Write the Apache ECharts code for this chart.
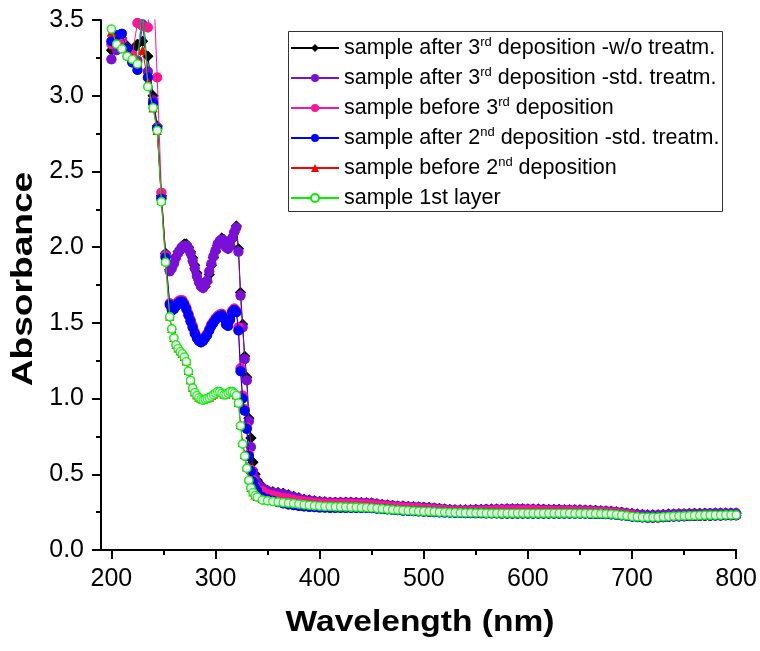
<!DOCTYPE html>
<html><head><meta charset="utf-8">
<script src="https://cdn.jsdelivr.net/npm/echarts@6/dist/echarts.min.js"></script>
<style>html,body{margin:0;padding:0;background:#fff}#c{width:760px;height:651px}</style>
</head><body><div id="c"></div>
<script>
// Wavelength grid (nm)
const wavelengths = [200,205,210,215,220,225,230,235,240,244,248,252,
256,258,260,262,264,266,268,270,272,274,276,278,280,282,284,286,288,290,292,294,296,298,300,302,304,306,308,310,312,314,316,318,320,
322,324,326,328,330,332,334,336,338,340,
345,350,355,360,365,370,375,380,385,390,395,400,
405,410,415,420,425,430,435,440,445,450,
455,460,465,470,475,480,485,490,495,500,
505,510,515,520,525,530,535,540,545,550,
555,560,565,570,575,580,585,590,595,600,
605,610,615,620,625,630,635,640,645,650,
655,660,665,670,675,680,685,690,695,700,
705,710,715,720,725,730,735,740,745,750,
755,760,765,770,775,780,785,790,795,800];

const seriesNames = [
  'sample after 3rd deposition -w/o treatm.',
  'sample after 3rd deposition -std. treatm.',
  'sample before 3rd deposition',
  'sample after 2nd deposition -std. treatm.',
  'sample before 2nd deposition',
  'sample 1st layer'
];

const after3rdNoTreat = [3.30,3.36,3.38,3.33,3.30,3.34,3.36,3.26,3.00,2.80,2.34,1.96,
1.85,1.87,1.90,1.94,1.97,1.99,2.01,2.02,2.02,2.00,1.97,1.93,1.88,1.83,1.78,1.75,1.73,1.74,1.77,1.82,
1.88,1.93,1.97,2.01,2.04,2.06,2.05,2.01,1.99,2.01,2.05,2.10,2.14,
1.99,1.70,1.49,1.28,1.14,0.87,0.74,0.58,0.50,0.46,
0.42,0.395,0.385,0.38,0.375,0.365,0.355,0.345,0.335,0.33,0.325,0.32,
0.318,0.316,0.315,0.315,0.315,0.315,0.314,0.313,0.312,0.31,
0.305,0.30,0.297,0.294,0.291,0.29,0.288,0.286,0.284,0.282,
0.28,0.277,0.274,0.271,0.268,0.266,0.265,0.265,0.266,0.267,
0.268,0.269,0.27,0.271,0.271,0.272,0.272,0.272,0.272,0.271,
0.271,0.27,0.269,0.268,0.267,0.267,0.266,0.266,0.265,0.265,
0.264,0.263,0.262,0.26,0.258,0.256,0.253,0.249,0.245,0.241,
0.237,0.234,0.232,0.232,0.233,0.235,0.237,0.238,0.239,0.24,
0.241,0.242,0.242,0.243,0.243,0.244,0.244,0.245,0.245,0.245];

const after3rdStdTreat = [3.24,3.30,3.33,3.30,3.26,3.23,3.47,3.16,2.97,2.79,2.33,1.95,
1.84,1.86,1.89,1.93,1.96,1.98,2.00,2.01,2.01,1.99,1.96,1.91,1.86,1.81,1.77,1.74,1.73,1.75,1.78,1.84,
1.89,1.94,1.98,2.02,2.04,2.05,2.04,2.00,1.99,2.01,2.06,2.10,2.13,
1.97,1.68,1.47,1.26,1.12,0.85,0.68,0.52,0.47,0.44,
0.41,0.39,0.38,0.375,0.37,0.36,0.35,0.34,0.332,0.327,0.322,0.318,
0.316,0.314,0.313,0.313,0.313,0.313,0.312,0.311,0.31,0.308,
0.303,0.298,0.295,0.292,0.289,0.288,0.286,0.284,0.282,0.28,
0.278,0.275,0.272,0.269,0.266,0.264,0.263,0.263,0.264,0.265,
0.266,0.267,0.268,0.269,0.269,0.27,0.27,0.27,0.27,0.269,
0.269,0.268,0.267,0.266,0.265,0.265,0.264,0.264,0.263,0.263,
0.262,0.261,0.26,0.258,0.256,0.254,0.251,0.247,0.243,0.239,
0.235,0.232,0.23,0.23,0.231,0.233,0.235,0.236,0.237,0.238,
0.239,0.24,0.24,0.241,0.241,0.242,0.242,0.243,0.243,0.243];

const before3rd = [3.34,3.38,3.37,3.31,3.27,3.48,3.46,3.45,3.80,3.12,2.36,1.94,
1.63,1.59,1.60,1.62,1.64,1.65,1.65,1.63,1.60,1.56,1.52,1.48,1.44,1.41,1.39,1.38,1.39,1.41,1.43,1.46,
1.49,1.51,1.53,1.545,1.555,1.56,1.54,1.50,1.49,1.53,1.58,1.595,1.58,
1.47,1.20,1.02,0.93,0.81,0.63,0.53,0.46,0.42,0.40,
0.39,0.37,0.36,0.352,0.345,0.338,0.332,0.326,0.32,0.316,0.312,0.309,
0.307,0.306,0.305,0.305,0.305,0.305,0.304,0.303,0.302,0.30,
0.296,0.292,0.289,0.286,0.283,0.281,0.279,0.277,0.275,0.273,
0.271,0.268,0.265,0.262,0.259,0.257,0.256,0.256,0.257,0.258,
0.259,0.26,0.261,0.262,0.262,0.263,0.263,0.263,0.263,0.262,
0.262,0.261,0.26,0.259,0.258,0.258,0.257,0.257,0.256,0.256,
0.255,0.254,0.253,0.251,0.249,0.247,0.244,0.239,0.234,0.229,
0.222,0.217,0.214,0.213,0.214,0.216,0.218,0.22,0.221,0.222,
0.223,0.224,0.225,0.226,0.226,0.227,0.227,0.228,0.228,0.228];

const after2ndStdTreat = [3.36,3.40,3.41,3.31,3.22,3.17,3.60,3.12,2.95,2.78,2.32,1.93,
1.62,1.58,1.59,1.61,1.63,1.64,1.64,1.62,1.59,1.55,1.51,1.47,1.43,1.40,1.38,1.37,1.38,1.40,1.42,1.45,
1.48,1.50,1.52,1.535,1.545,1.55,1.53,1.49,1.48,1.52,1.57,1.585,1.57,
1.45,1.18,1.00,0.92,0.80,0.62,0.52,0.45,0.41,0.39,
0.35,0.335,0.325,0.315,0.307,0.30,0.295,0.291,0.287,0.284,0.282,0.28,
0.279,0.278,0.278,0.278,0.278,0.278,0.278,0.278,0.277,0.276,
0.273,0.27,0.267,0.264,0.262,0.26,0.258,0.256,0.254,0.253,
0.252,0.25,0.248,0.247,0.246,0.245,0.244,0.243,0.243,0.242,
0.242,0.241,0.241,0.241,0.24,0.24,0.24,0.24,0.24,0.24,
0.24,0.24,0.24,0.24,0.24,0.24,0.24,0.24,0.239,0.239,
0.239,0.238,0.238,0.237,0.236,0.235,0.232,0.228,0.224,0.22,
0.217,0.215,0.214,0.214,0.215,0.217,0.219,0.221,0.222,0.223,
0.224,0.225,0.226,0.227,0.227,0.228,0.228,0.229,0.229,0.229];

const before2nd = [3.42,3.35,3.32,3.27,3.25,3.22,3.30,3.09,2.92,2.77,2.31,1.91,
1.545,1.465,1.405,1.36,1.335,1.315,1.30,1.28,1.25,1.185,1.125,1.075,1.045,1.025,1.01,1.00,0.995,1.00,1.005,1.01,
1.02,1.03,1.04,1.05,1.05,1.04,1.03,1.03,1.04,1.05,1.05,1.04,1.025,
0.975,0.83,0.71,0.63,0.55,0.47,0.415,0.385,0.365,0.355,
0.34,0.332,0.327,0.323,0.319,0.316,0.313,0.309,0.305,0.301,0.298,0.296,
0.294,0.293,0.292,0.291,0.29,0.289,0.288,0.287,0.286,0.284,
0.281,0.278,0.275,0.272,0.27,0.268,0.266,0.264,0.262,0.261,
0.26,0.258,0.256,0.255,0.254,0.253,0.252,0.251,0.251,0.25,
0.25,0.249,0.249,0.249,0.248,0.248,0.248,0.248,0.248,0.248,
0.248,0.248,0.248,0.248,0.248,0.248,0.248,0.248,0.247,0.247,
0.247,0.246,0.246,0.245,0.244,0.243,0.24,0.236,0.232,0.228,
0.225,0.223,0.222,0.222,0.223,0.225,0.227,0.229,0.23,0.231,
0.232,0.233,0.234,0.235,0.235,0.236,0.236,0.237,0.237,0.237];

const firstLayer = [3.44,3.34,3.31,3.26,3.24,3.21,3.60,3.06,2.92,2.77,2.30,1.90,
1.54,1.46,1.40,1.355,1.33,1.31,1.295,1.275,1.245,1.18,1.12,1.07,1.04,1.02,1.005,0.995,0.99,0.995,1.00,1.005,
1.015,1.025,1.035,1.045,1.045,1.035,1.025,1.025,1.035,1.045,1.045,1.035,1.02,
0.97,0.82,0.70,0.62,0.54,0.46,0.41,0.38,0.36,0.35,
0.33,0.325,0.32,0.317,0.313,0.31,0.307,0.303,0.299,0.295,0.292,0.29,
0.288,0.287,0.286,0.285,0.284,0.283,0.282,0.281,0.28,0.278,
0.275,0.272,0.269,0.266,0.264,0.262,0.26,0.258,0.256,0.255,
0.254,0.252,0.25,0.249,0.248,0.247,0.246,0.245,0.245,0.244,
0.244,0.243,0.243,0.243,0.242,0.242,0.242,0.242,0.242,0.242,
0.242,0.242,0.242,0.242,0.242,0.242,0.242,0.242,0.241,0.241,
0.241,0.24,0.24,0.239,0.238,0.237,0.234,0.23,0.226,0.222,
0.219,0.217,0.216,0.216,0.217,0.219,0.221,0.223,0.224,0.225,
0.226,0.227,0.228,0.229,0.229,0.23,0.23,0.231,0.231,0.231];

const xTickValues = [200,300,400,500,600,700,800];
const xMinorTickValues = [250,350,450,550,650,750];
const yTickLabels = ['0.0','0.5','1.0','1.5','2.0','2.5','3.0','3.5'];

const allValues = [after3rdNoTreat, after3rdStdTreat, before3rd, after2ndStdTreat, before2nd, firstLayer];
const colors = ['#000000','#7a10d8','#ff1493','#0000ff','#ff0000','#00ee00'];
const symbols = ['diamond','circle','circle','circle','triangle','circle'];
const symbolSizes = [11,10,10,10,9,8];

const FONT = '"Liberation Sans", Arial, sans-serif';

const series = [];
allValues.forEach((vals, k) => {
  const pts = wavelengths.map((w, i) => [w, vals[i]]);
  const itemStyle = k === 5 ? { color: '#ffffff', borderColor: colors[k], borderWidth: 1.4 } : { color: colors[k] };
  series.push({
    name: seriesNames[k],
    type: 'line',
    data: pts,
    symbol: symbols[k],
    symbolSize: symbolSizes[k],
    showAllSymbol: true,
    clip: true,
    color: colors[k],
    lineStyle: { width: 1, color: colors[k] },
    itemStyle: itemStyle,
    emphasis: { disabled: true },
    z: 2 + k * 2
  });
  series.push({
    name: seriesNames[k] + ' markers',
    type: 'scatter',
    data: pts,
    symbol: symbols[k],
    symbolSize: symbolSizes[k],
    clip: true,
    itemStyle: itemStyle,
    emphasis: { disabled: true },
    silent: true,
    z: 3 + k * 2
  });
});

const chart = echarts.init(document.getElementById('c'), null, { renderer: 'canvas' });
chart.setOption({
  animation: false,
  backgroundColor: '#ffffff',
  grid: { left: 101, right: 23, top: 20, bottom: 101, containLabel: false },
  xAxis: [{
    type: 'value', min: 190, max: 800, position: 'bottom',
    axisLine: { show: true, onZero: false, lineStyle: { color: '#000', width: 2 } },
    axisTick: { show: true, inside: false, length: 9, lineStyle: { color: '#000', width: 2 }, customValues: xTickValues },
    axisLabel: { show: true, customValues: xTickValues, fontSize: 25, fontFamily: FONT, color: '#000', margin: 17 },
    splitLine: { show: false }
  }, {
    type: 'value', min: 190, max: 800, position: 'bottom',
    axisLine: { show: false, onZero: false },
    axisTick: { show: true, inside: false, length: 5, lineStyle: { color: '#000', width: 2 }, customValues: xMinorTickValues },
    axisLabel: { show: false },
    splitLine: { show: false }
  }],
  yAxis: {
    type: 'value', min: 0, max: 3.5, interval: 0.5,
    axisLine: { show: true, onZero: false, lineStyle: { color: '#000', width: 2 } },
    axisTick: { show: true, inside: false, length: 9, lineStyle: { color: '#000', width: 2 } },
    minorTick: { show: true, splitNumber: 2, length: 5, lineStyle: { color: '#000', width: 2 } },
    axisLabel: { fontSize: 25, fontFamily: FONT, color: '#000', margin: 17,
      formatter: v => yTickLabels[Math.round(v / 0.5)] },
    splitLine: { show: false }
  },
  legend: {
    orient: 'vertical', left: 290, top: 36, padding: 0,
    itemWidth: 48, itemHeight: 10, itemGap: 6,
    selectedMode: false,
    data: seriesNames,
    formatter: n => n.replace(/(\d)(rd|nd) /, '$1{sup|$2} '),
    textStyle: { fontSize: 21.5, fontFamily: FONT, color: '#000', lineHeight: 24,
      rich: { sup: { fontSize: 13, fontFamily: FONT, color: '#000', verticalAlign: 'top', lineHeight: 13 } } }
  },
  graphic: [
    { type: 'rect', shape: { x: 288.5, y: 31.5, width: 434, height: 180 },
      style: { fill: 'none', stroke: '#333', lineWidth: 1 }, silent: true, z: 100 },
    { type: 'text', x: 420, y: 623, scaleX: 1.156,
      style: { text: 'Wavelength (nm)', font: 'bold 29px ' + FONT, fill: '#000',
        align: 'center', verticalAlign: 'middle', textAlign: 'center', textVerticalAlign: 'middle' } },
    { type: 'text', x: 24, y: 279, rotation: Math.PI / 2, scaleX: 1.28,
      style: { text: 'Absorbance', font: 'bold 29px ' + FONT, fill: '#000',
        align: 'center', verticalAlign: 'middle', textAlign: 'center', textVerticalAlign: 'middle' } }
  ],
  series: series
});
</script>
</body></html>
